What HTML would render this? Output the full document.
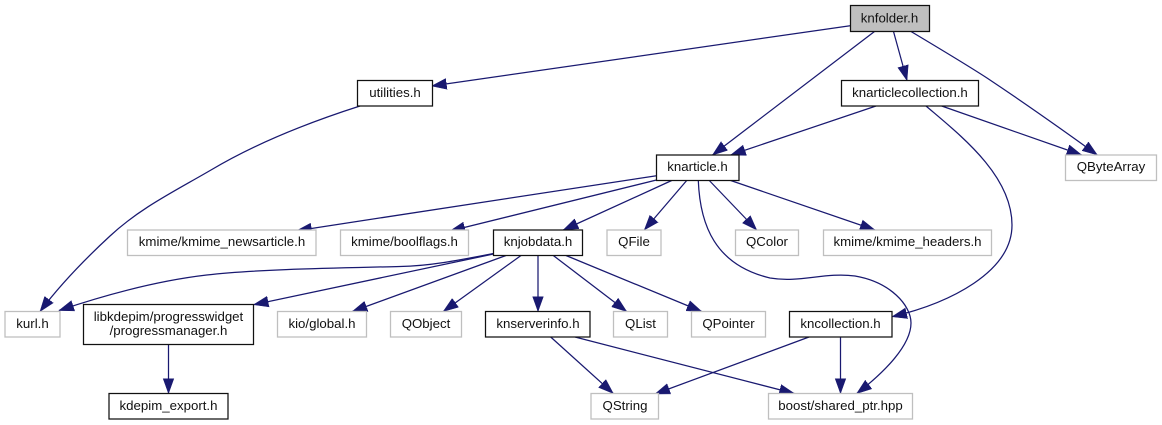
<!DOCTYPE html>
<html><head><meta charset="utf-8"><style>
html,body{margin:0;padding:0;background:#fff;width:1162px;height:425px;overflow:hidden}
svg{display:block}
text{font-family:"Liberation Sans",sans-serif;font-size:13.25px;fill:#111;text-anchor:middle}
.e path{fill:none;stroke:#191970;stroke-width:1.25;marker-end:url(#a)}
.n rect{fill:#fff;stroke:#111;stroke-width:1.25}
.g rect{fill:#fff;stroke:#bfbfbf;stroke-width:1.3}
</style></head><body>
<svg width="1162" height="425" viewBox="0 0 1162 425" xmlns="http://www.w3.org/2000/svg">
<defs><marker id="a" markerUnits="userSpaceOnUse" markerWidth="18" markerHeight="14" refX="15" refY="6" orient="auto"><path d="M0,0.6L15,6L0,11.4Z" fill="#191970" stroke="#191970" stroke-width="0.5"/></marker></defs>
<g class="e">
<path d="M851,25.6L431.7,86"/>
<path d="M874.5,31.5L712.5,155"/>
<path d="M893.5,31.5L907,80.5"/>
<path d="M911,31.5C942,50 967,65 987,78C1020,100 1060,128 1097.3,155"/>
<path d="M876,106L730.7,155"/>
<path d="M941.7,106L1081.7,155"/>
<path d="M926,106C960,135 1012,175 1012,225C1012,272 950,303 892,316.7"/>
<path d="M360,106C310,122 258,142 211,170C175,191 140,208 110,236C84,260 60,285 40,311.5"/>
<path d="M656.5,175.7L296.7,230.7"/>
<path d="M656.5,180L450,231"/>
<path d="M671.7,180.5L563.3,230"/>
<path d="M686.7,180.5L644.3,230"/>
<path d="M709.3,180.5L756.7,230"/>
<path d="M730.7,180.5L875,230"/>
<path d="M698.3,180.5C700,225 715,265 770,278C800,283 825,272 855,276C890,282 911,305 911,323C911,345 885,372 856.7,393.5"/>
<path d="M493.5,253.5C460,260 430,266 400,266.5C340,268 260,269 206.7,275C155,281 105,295 59,310.5"/>
<path d="M493.5,254L253.5,304.7"/>
<path d="M506,255.5L352.3,311.5"/>
<path d="M521,255.5L443.3,311.5"/>
<path d="M538,255.5L538,311.5"/>
<path d="M553.3,255.5L626.7,311.5"/>
<path d="M566,255.5L701.7,311.5"/>
<path d="M168.5,344.5L168.5,393.5"/>
<path d="M550.7,337L613.3,393.5"/>
<path d="M575,337L794.3,393.5"/>
<path d="M809,337L655,394"/>
<path d="M840.5,337L840.5,393.5"/>
</g>
<g class="n">
<rect x="850.5" y="5.5" width="79" height="26" style="fill:#bfbfbf"/><text x="889.5" y="22.5">knfolder.h</text>
<rect x="357.5" y="80.5" width="75" height="25.5"/><text x="395" y="97">utilities.h</text>
<rect x="841.5" y="80.5" width="137" height="25.5"/><text x="910" y="97">knarticlecollection.h</text>
<rect x="656.5" y="155" width="82.5" height="25.5"/><text x="697.5" y="171">knarticle.h</text>
<rect x="493.5" y="230" width="89" height="25.5"/><text x="538" y="246">knjobdata.h</text>
<rect x="83.5" y="304.5" width="170" height="40"/><text x="168.5" y="321">libkdepim/progresswidget</text><text x="168.5" y="335">/progressmanager.h</text>
<rect x="485.5" y="311.5" width="104.5" height="25.5"/><text x="538" y="328">knserverinfo.h</text>
<rect x="789.5" y="311.5" width="102.5" height="25.5"/><text x="840.5" y="328">kncollection.h</text>
<rect x="109" y="393.5" width="119" height="25.5"/><text x="168.5" y="410">kdepim_export.h</text>
</g>
<g class="g">
<rect x="1065.5" y="155" width="91" height="25.5"/><text x="1111" y="171">QByteArray</text>
<rect x="127.5" y="230" width="188.5" height="25.5"/><text x="222" y="246">kmime/kmime_newsarticle.h</text>
<rect x="340.5" y="230" width="128" height="25.5"/><text x="404.5" y="246">kmime/boolflags.h</text>
<rect x="607" y="230" width="54" height="25.5"/><text x="634" y="246">QFile</text>
<rect x="735.5" y="230" width="63" height="25.5"/><text x="767" y="246">QColor</text>
<rect x="823.5" y="230" width="168" height="25.5"/><text x="907.5" y="246">kmime/kmime_headers.h</text>
<rect x="5" y="311.5" width="55" height="25.5"/><text x="32.5" y="328">kurl.h</text>
<rect x="277.5" y="311.5" width="89" height="25.5"/><text x="322" y="328">kio/global.h</text>
<rect x="390.5" y="311.5" width="71" height="25.5"/><text x="426" y="328">QObject</text>
<rect x="613.5" y="311.5" width="54" height="25.5"/><text x="640.5" y="328">QList</text>
<rect x="691.5" y="311.5" width="74" height="25.5"/><text x="728.5" y="328">QPointer</text>
<rect x="591" y="393.5" width="67.5" height="25.5"/><text x="625" y="410">QString</text>
<rect x="768.5" y="393.5" width="144" height="25.5"/><text x="840.5" y="410">boost/shared_ptr.hpp</text>
</g>
</svg>
</body></html>
